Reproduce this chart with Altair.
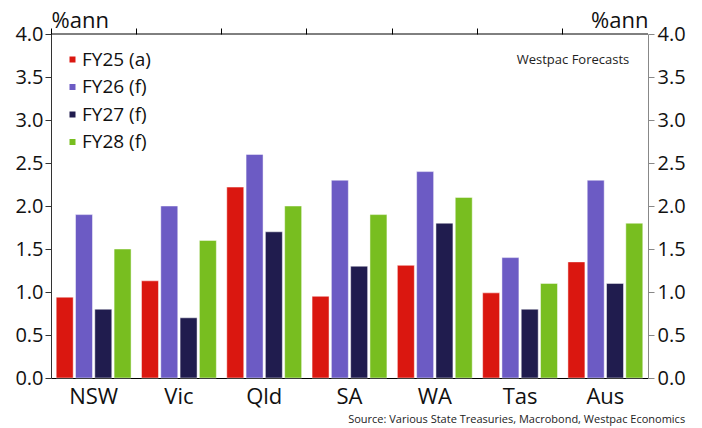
import altair as alt
import pandas as pd

states = ["NSW", "Vic", "Qld", "SA", "WA", "Tas", "Aus"]
series = ["FY25 (a)", "FY26 (f)", "FY27 (f)", "FY28 (f)"]
fy25 = [0.94, 1.13, 2.22, 0.95, 1.31, 0.99, 1.35]
fy26 = [1.9, 2.0, 2.6, 2.3, 2.4, 1.4, 2.3]
fy27 = [0.8, 0.7, 1.7, 1.3, 1.8, 0.8, 1.1]
fy28 = [1.5, 1.6, 2.0, 1.9, 2.1, 1.1, 1.8]
colors = ["#DA1710", "#6C5BC4", "#201C4E", "#78BE20"]
y_ticks = [0.0, 0.5, 1.0, 1.5, 2.0, 2.5, 3.0, 3.5, 4.0]
note_text = ["Westpac Forecasts"]

rows = []
for s, vals in zip(series, [fy25, fy26, fy27, fy28]):
    for st, v in zip(states, vals):
        rows.append({"state": st, "series": s, "value": v})
df = pd.DataFrame(rows)
note_df = pd.DataFrame({"t": note_text})

FONT = "Open Sans"
W, H = 597, 344

xscale = alt.Scale(domain=states, paddingInner=0, paddingOuter=0)
yscale = alt.Scale(domain=[0, 4], nice=False, zero=True)

bars = alt.Chart(df).mark_bar(stroke="white", strokeWidth=0.8, strokeOpacity=0.6).encode(
    x=alt.X("state:N", scale=xscale, sort=states,
            axis=alt.Axis(title=None, ticks=False, labelFontSize=22, labelPadding=8,
                          domainColor="black", labelColor="#111", labelAngle=0)),
    xOffset=alt.XOffset("series:N", sort=series,
                        scale=alt.Scale(paddingInner=0.12, paddingOuter=0.27)),
    y=alt.Y("value:Q", scale=yscale,
            axis=alt.Axis(title="%ann", orient="left", values=y_ticks, format=".1f",
                          grid=False, tickSize=6, labelFontSize=20, labelPadding=2,
                          domainColor="#333", tickColor="#333", labelColor="#111",
                          titleAngle=0, titleX=0, titleY=-7, titleAlign="left",
                          titleBaseline="alphabetic", titleFontSize=22,
                          titleFontWeight="normal", titleColor="#111")),
    color=alt.Color("series:N", sort=series,
                    scale=alt.Scale(domain=series, range=colors),
                    legend=alt.Legend(title=None, orient="none", legendX=4, legendY=16,
                                      symbolType="square", symbolSize=36,
                                      symbolOffset=8,
                                      symbolStrokeWidth=0, labelFontSize=19,
                                      labelOffset=0, rowPadding=7.5, padding=0,
                                      labelColor="#111")),
)

ghost = alt.Chart(df).mark_point(opacity=0).encode(
    x=alt.X("state:N", scale=xscale, sort=states,
            axis=alt.Axis(title=None, labels=False, domain=False, ticks=True,
                          tickSize=6, bandPosition=0, tickColor="black")),
    y=alt.Y("value:Q", scale=yscale,
            axis=alt.Axis(title="%ann", orient="right", values=y_ticks, format=".1f",
                          grid=False, tickSize=6, labelFontSize=20, labelPadding=3,
                          domainColor="#888", tickColor="#888", labelColor="#111",
                          titleAngle=0, titleX=0, titleY=-7, titleAlign="right",
                          titleBaseline="alphabetic", titleFontSize=22,
                          titleFontWeight="normal", titleColor="#111")),
)

top_line = alt.Chart(note_df).mark_rule(color="black", strokeWidth=1).encode(
    x=alt.value(0), x2=alt.value(W), y=alt.value(0)
)

note = alt.Chart(note_df).mark_text(fontSize=13, font=FONT, color="#222",
                                    align="center", baseline="middle").encode(
    text="t:N", x=alt.value(522), y=alt.value(26)
)

chart = alt.layer(bars, ghost, top_line, note).resolve_axis(
    x="independent", y="independent"
).properties(
    width=W, height=H,
    autosize=alt.AutoSizeParams(type="none"),
    padding={"left": 51, "top": 34, "right": 54, "bottom": 50},
    title=alt.TitleParams("Source: Various State Treasuries, Macrobond, Westpac Economics",
                          orient="bottom", anchor="end", fontSize=11,
                          fontWeight="normal", color="#222", dx=0, offset=7, font=FONT),
).configure(font=FONT).configure_view(stroke=None)

chart.save("out.html", embed_options={"renderer": "svg", "actions": False})
